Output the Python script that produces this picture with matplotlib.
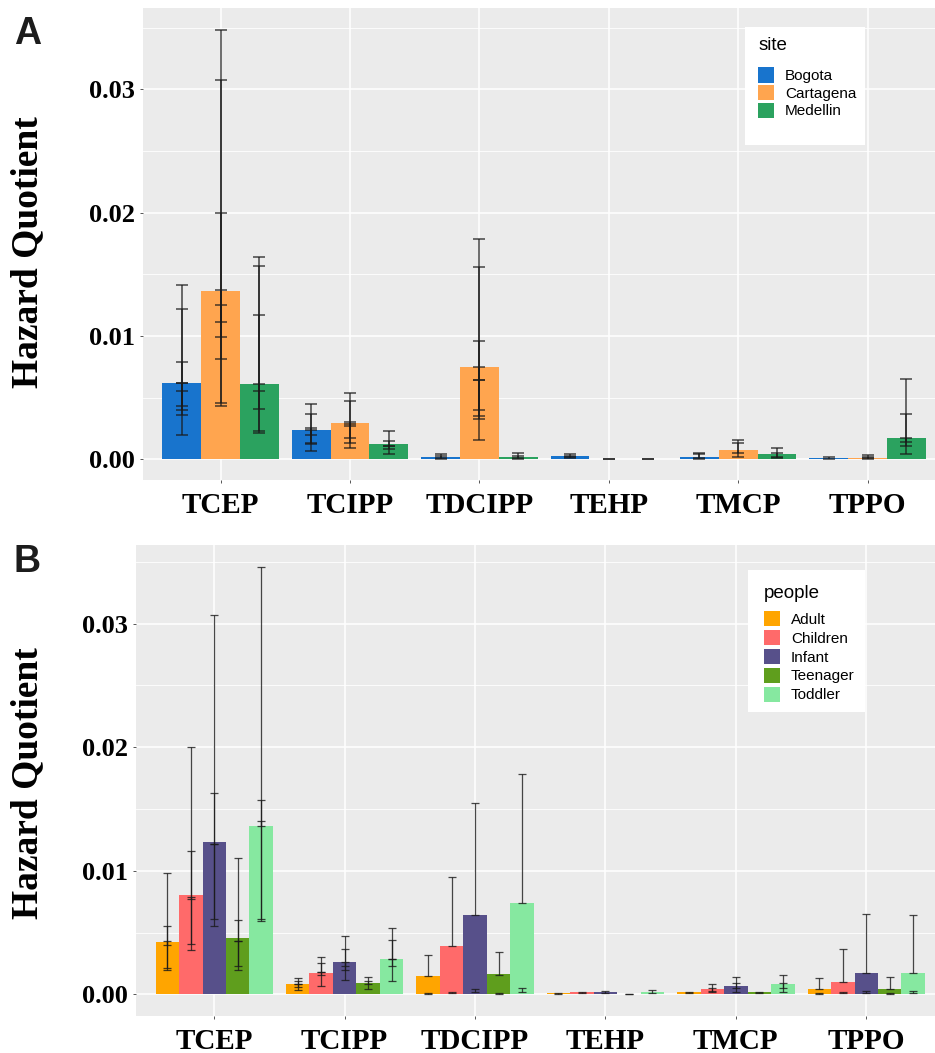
import numpy as np
import matplotlib
matplotlib.use("Agg")
import matplotlib.pyplot as plt
from matplotlib.patches import Patch, Rectangle

# compounds on the x axis
compounds = ['TCEP', 'TCIPP', 'TDCIPP', 'TEHP', 'TMCP', 'TPPO']

# ---- panel A: by site ----
sites = ['Bogota', 'Cartagena', 'Medellin']
site_colors = ['#1874CD', '#FFA54F', '#2BA25F']

hq_bogota = [0.00616, 0.00238, 0.00016, 0.00027, 0.00020, 0.00010]
hq_cartagena = [0.01368, 0.00292, 0.00746, 0.0, 0.00076, 0.00014]
hq_medellin = [0.00611, 0.00122, 0.00022, 0.0, 0.00043, 0.00176]

# error bars (low, high) for each compound, several overlaid per bar
err_bogota = [
    [(0.0020, 0.0141), (0.0036, 0.0122), (0.0040, 0.0079), (0.0043, 0.0062), (0.0055, 0.0062)],
    [(0.0007, 0.0045), (0.0012, 0.0037), (0.0013, 0.0025), (0.0020, 0.0024)],
    [(0.0001, 0.0004), (0.00005, 0.0003)],
    [(0.0001, 0.0004), (0.00015, 0.0003)],
    [(0.0001, 0.00055), (0.00005, 0.0004)],
    [(0.00005, 0.0002)],
]
err_cartagena = [
    [(0.0043, 0.0348), (0.0046, 0.0308), (0.0081, 0.0200), (0.0099, 0.0137), (0.0111, 0.0125)],
    [(0.0009, 0.0054), (0.0013, 0.0047), (0.0017, 0.0030), (0.0027, 0.0029)],
    [(0.0016, 0.0179), (0.0033, 0.0156), (0.0035, 0.0096), (0.0040, 0.0075), (0.0064, 0.0064)],
    [(0.0, 0.0)],
    [(0.0002, 0.0016), (0.0005, 0.0013)],
    [(0.00003, 0.00035), (0.0001, 0.0002)],
]
err_medellin = [
    [(0.0021, 0.0164), (0.0023, 0.0157), (0.0041, 0.0117), (0.0055, 0.0061)],
    [(0.0004, 0.0023), (0.0008, 0.0015), (0.0011, 0.0011)],
    [(0.0001, 0.0005), (0.00005, 0.0003)],
    [(0.0, 0.0)],
    [(0.0001, 0.0009), (0.0002, 0.0005)],
    [(0.0004, 0.0065), (0.0011, 0.0037), (0.0014, 0.0017)],
]

# ---- panel B: by people ----
people = ['Adult', 'Children', 'Infant', 'Teenager', 'Toddler']
people_colors = ['#FFA500', '#FF6A6A', '#57508A', '#5F9E1D', '#86E8A0']

hq_adult = [0.00425, 0.00083, 0.0015, 0.00008, 0.00016, 0.0004]
hq_children = [0.00806, 0.00169, 0.0039, 0.00016, 0.00043, 0.00102]
hq_infant = [0.01237, 0.00258, 0.0064, 0.00016, 0.0007, 0.00175]
hq_teenager = [0.0046, 0.00089, 0.00161, 0.00003, 0.00016, 0.0004]
hq_toddler = [0.0136, 0.0029, 0.00742, 0.00022, 0.00081, 0.00169]

err_adult = [
    [(0.0020, 0.0098), (0.0021, 0.0055), (0.0040, 0.0043)],
    [(0.00035, 0.0013), (0.0006, 0.0011), (0.0008, 0.0008)],
    [(0.0015, 0.0032), (0.00005, 0.0001)],
    [(0.00005, 0.0001)],
    [(0.0001, 0.0002)],
    [(0.0004, 0.0013), (0.00003, 0.0001)],
]
err_children = [
    [(0.0036, 0.0200), (0.0041, 0.0116), (0.0077, 0.0079)],
    [(0.0007, 0.0030), (0.0016, 0.0025), (0.0018, 0.0018)],
    [(0.0039, 0.0095), (0.0001, 0.0002)],
    [(0.0001, 0.0002)],
    [(0.0003, 0.0008), (0.0002, 0.0005)],
    [(0.0010, 0.0037), (0.0001, 0.0002)],
]
err_infant = [
    [(0.0055, 0.0307), (0.0061, 0.0163), (0.0122, 0.0122)],
    [(0.0012, 0.0047), (0.0020, 0.0037), (0.0023, 0.0026)],
    [(0.0064, 0.0155), (0.0002, 0.0004)],
    [(0.0001, 0.00027)],
    [(0.0002, 0.0014), (0.0005, 0.0009)],
    [(0.00175, 0.0065), (0.0001, 0.0003)],
]
err_teenager = [
    [(0.0020, 0.0110), (0.0023, 0.0060), (0.0043, 0.0043)],
    [(0.0004, 0.0014), (0.0008, 0.0011)],
    [(0.0016, 0.0034), (0.00005, 0.0001)],
    [(0.0, 0.00005)],
    [(0.0001, 0.0002)],
    [(0.0004, 0.0014), (0.00003, 0.0001)],
]
err_toddler = [
    [(0.0059, 0.0346), (0.0061, 0.0157), (0.0136, 0.0140)],
    [(0.0011, 0.0054), (0.0023, 0.0044), (0.0029, 0.0029)],
    [(0.0074, 0.0178), (0.0002, 0.0005)],
    [(0.0001, 0.00035)],
    [(0.0002, 0.0016), (0.0005, 0.0009)],
    [(0.0017, 0.0064), (0.0001, 0.0003)],
]

W, H = 935, 1053
fig = plt.figure(figsize=(W / 100, H / 100), dpi=100)

serif = 'Liberation Serif'
sans = 'Liberation Sans'


def px_axes(left, top, right, bottom):
    return fig.add_axes([left / W, 1 - bottom / H, (right - left) / W, (bottom - top) / H])


def style_axes(ax, xlim, ylim):
    ax.set_facecolor('#EBEBEB')
    for s in ax.spines.values():
        s.set_visible(False)
    ax.set_xlim(*xlim)
    ax.set_ylim(*ylim)
    ax.set_yticks([0, 0.01, 0.02, 0.03])
    ax.set_yticklabels(['0.00', '0.01', '0.02', '0.03'])
    ax.set_yticks([0.005, 0.015, 0.025, 0.035], minor=True)
    ax.set_xticks(range(len(compounds)))
    ax.set_xticklabels(compounds)
    ax.grid(which='major', color='white', linewidth=1.1)
    ax.grid(which='minor', axis='y', color='white', linewidth=0.6)
    ax.set_axisbelow(True)
    ax.tick_params(which='major', length=2.5, width=0.7, color='#555555')
    ax.tick_params(which='minor', length=0)
    ax.tick_params(axis='y', pad=3)
    ax.tick_params(axis='x', pad=6)
    for lab in ax.get_yticklabels():
        lab.set_fontfamily(serif)
        lab.set_fontweight('bold')
        lab.set_fontsize(19)
    for lab in ax.get_xticklabels():
        lab.set_fontfamily(serif)
        lab.set_fontweight('bold')
        lab.set_fontsize(21)


def draw_group(ax, values, errors, colors, width, capsize, lw):
    n = len(values)
    x = np.arange(len(compounds))
    xs, mids, halves = [], [], []
    for i in range(n):
        pos = x + (i - (n - 1) / 2) * width
        ax.bar(pos, values[i], width=width, color=colors[i], zorder=2)
        for j, bars in enumerate(errors[i]):
            for lo, hi in bars:
                xs.append(pos[j])
                mids.append((lo + hi) / 2)
                halves.append((hi - lo) / 2)
    ax.errorbar(xs, mids, yerr=halves, fmt='none', ecolor='#1a1a1a', alpha=0.8,
                elinewidth=lw, capsize=capsize, capthick=lw, zorder=3)


# panel A
axA = px_axes(143, 8, 935, 480)
style_axes(axA, (-0.6, -0.6 + (935 - 143) / 129.4), (-0.00168, 0.0366))
draw_group(axA, [hq_bogota, hq_cartagena, hq_medellin],
           [err_bogota, err_cartagena, err_medellin], site_colors, 0.3, 4.3, 1.1)

# panel B
axB = px_axes(136, 545, 935, 1016)
style_axes(axB, (-0.6, -0.6 + (935 - 136) / 130.4), (-0.00175, 0.03637))
draw_group(axB, [hq_adult, hq_children, hq_infant, hq_teenager, hq_toddler],
           [err_adult, err_children, err_infant, err_teenager, err_toddler],
           people_colors, 0.18, 2.6, 0.9)

# y labels and panel letters
fig.text(28 / W, 1 - 252 / H, 'Hazard Quotient', rotation=90, ha='center', va='center',
         fontfamily=serif, fontweight='bold', fontsize=27)
fig.text(28 / W, 1 - 783 / H, 'Hazard Quotient', rotation=90, ha='center', va='center',
         fontfamily=serif, fontweight='bold', fontsize=27)
fig.text(14 / W, 1 - 44 / H, 'A', ha='left', va='baseline',
         fontfamily=sans, fontweight='bold', fontsize=27, color='#1C1C1C')
fig.text(14 / W, 1 - 572 / H, 'B', ha='left', va='baseline',
         fontfamily=sans, fontweight='bold', fontsize=27, color='#1C1C1C')

# legends with white boxes
fig.patches.append(Rectangle((745 / W, 1 - 145 / H), 120 / W, 118 / H,
                             transform=fig.transFigure, facecolor='white', edgecolor='none', zorder=5))
fig.patches.append(Rectangle((748 / W, 1 - 712 / H), 117 / W, 142 / H,
                             transform=fig.transFigure, facecolor='white', edgecolor='none', zorder=5))

leg_kw = dict(loc='upper left', bbox_transform=fig.transFigure, frameon=False,
              prop={'family': sans, 'size': 11},
              title_fontproperties={'family': sans, 'size': 13.5},
              alignment='left', borderpad=0.8, borderaxespad=0, handlelength=1.0,
              handleheight=1.15, handletextpad=0.75, labelspacing=0.12)

handlesA = [Patch(facecolor=c, edgecolor='none') for c in site_colors]
legA = fig.legend(handlesA, sites, title='site', bbox_to_anchor=(746 / W, 1 - 25 / H), **leg_kw)
legA._legend_box.sep = 9.5  # gap between title and keys (points)
legA.set_zorder(6)

handlesB = [Patch(facecolor=c, edgecolor='none') for c in people_colors]
legB = fig.legend(handlesB, people, title='people', bbox_to_anchor=(752 / W, 1 - 573 / H),
                  **{**leg_kw, 'labelspacing': 0.2})
legB._legend_box.sep = 6.5
legB.set_zorder(6)

fig.savefig('out.png', dpi=100)
